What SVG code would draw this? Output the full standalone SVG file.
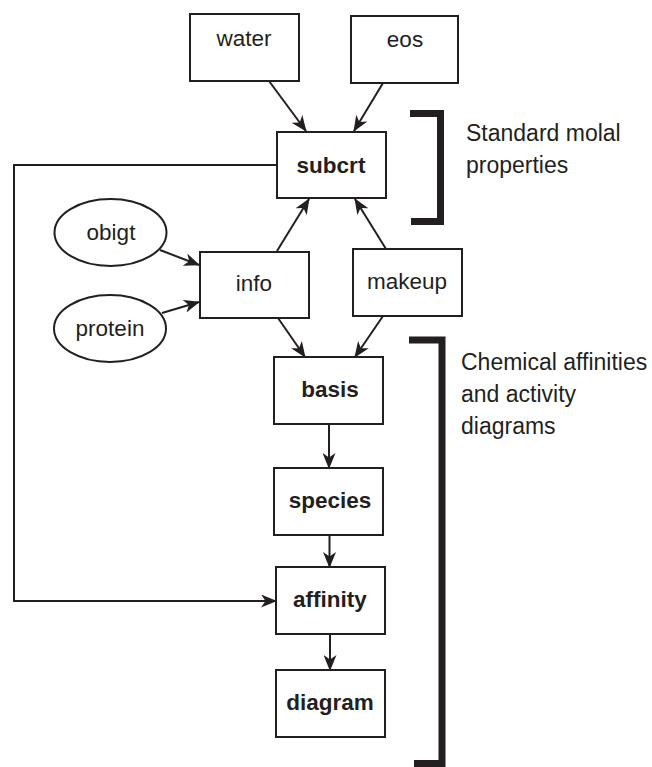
<svg xmlns="http://www.w3.org/2000/svg" width="652" height="767" viewBox="0 0 652 767">
<style>
.box{fill:#fff;stroke:#231f20;stroke-width:2}
.t{font-family:"Liberation Sans",Arial,Helvetica,sans-serif;font-size:22.5px;fill:#231f20;text-anchor:middle}
.b{font-weight:bold}
.lbl{font-family:"Liberation Sans",Arial,Helvetica,sans-serif;font-size:23px;fill:#231f20}
.c{fill:none;stroke:#231f20;stroke-width:2}
.br{fill:none;stroke:#231f20;stroke-width:7}
</style>
<defs>
<marker id="ah" markerUnits="userSpaceOnUse" viewBox="0 0 16 13" markerWidth="16" markerHeight="13" refX="15" refY="6.5" orient="auto">
<path d="M0,0 L16,6.5 L0,13 L4.5,6.5 Z" fill="#231f20"/>
</marker>
</defs>
<rect width="652" height="767" fill="#fff"/>
<g id="connectors">
<line class="c" x1="269" y1="81" x2="306" y2="131" marker-end="url(#ah)"/>
<line class="c" x1="383" y1="83" x2="354" y2="131" marker-end="url(#ah)"/>
<polyline class="c" points="277,165 14,165 14,601 276,601" marker-end="url(#ah)"/>
<line class="c" x1="160" y1="250" x2="199" y2="265" marker-end="url(#ah)"/>
<line class="c" x1="162" y1="313" x2="199" y2="302" marker-end="url(#ah)"/>
<line class="c" x1="277" y1="251" x2="309" y2="199" marker-end="url(#ah)"/>
<line class="c" x1="386" y1="249" x2="355" y2="199" marker-end="url(#ah)"/>
<line class="c" x1="278" y1="318" x2="305" y2="357" marker-end="url(#ah)"/>
<line class="c" x1="383" y1="316" x2="355" y2="357" marker-end="url(#ah)"/>
<line class="c" x1="329" y1="424" x2="329" y2="468" marker-end="url(#ah)"/>
<line class="c" x1="329.5" y1="535" x2="329.5" y2="567" marker-end="url(#ah)"/>
<line class="c" x1="330" y1="634" x2="330" y2="670" marker-end="url(#ah)"/>
</g>
<g id="water"><rect class="box" x="190" y="14" width="109" height="67"/><text class="t" x="244" y="46">water</text></g>
<g id="eos"><rect class="box" x="351" y="16" width="107" height="67"/><text class="t" x="405" y="47">eos</text></g>
<g id="subcrt"><rect class="box" x="277" y="132" width="109" height="66"/><text class="t b" x="331" y="173">subcrt</text></g>
<g id="obigt"><ellipse class="box" cx="110.5" cy="232.5" rx="56" ry="33.5"/><text class="t" x="111" y="240">obigt</text></g>
<g id="protein"><ellipse class="box" cx="110" cy="328.5" rx="56" ry="33.5"/><text class="t" x="110" y="336">protein</text></g>
<g id="info"><rect class="box" x="200" y="252" width="109" height="66"/><text class="t" x="254" y="291">info</text></g>
<g id="makeup"><rect class="box" x="353" y="249" width="109" height="67"/><text class="t" x="407" y="289">makeup</text></g>
<g id="basis"><rect class="box" x="274" y="357" width="109" height="67"/><text class="t b" x="330" y="397">basis</text></g>
<g id="species"><rect class="box" x="274" y="468" width="109" height="67"/><text class="t b" x="330" y="508">species</text></g>
<g id="affinity"><rect class="box" x="276" y="567" width="109" height="67"/><text class="t b" x="330" y="607">affinity</text></g>
<g id="diagram"><rect class="box" x="276" y="670" width="109" height="67"/><text class="t b" x="330" y="710">diagram</text></g>
<g id="bracket1">
<polyline class="br" points="410,113.5 440.5,113.5 440.5,221.5 411,221.5"/>
<text class="lbl" x="466" y="141">Standard molal</text>
<text class="lbl" x="466" y="173">properties</text>
</g>
<g id="bracket2">
<polyline class="br" points="409,340 442,340 442,763.5 414,763.5"/>
<text class="lbl" x="461" y="370">Chemical affinities</text>
<text class="lbl" x="461" y="402">and activity</text>
<text class="lbl" x="461" y="434">diagrams</text>
</g>
</svg>
